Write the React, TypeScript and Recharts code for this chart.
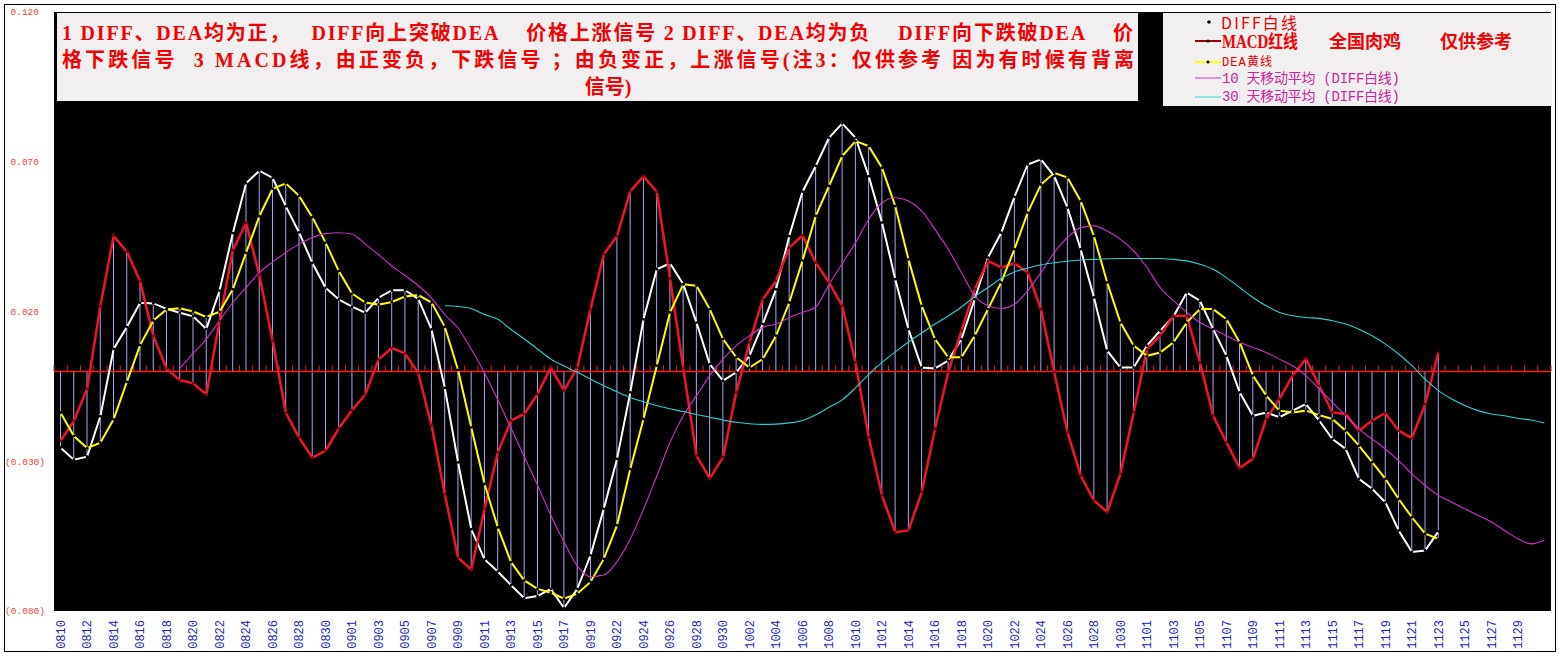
import React from 'react';
import { ComposedChart, Line, Bar, XAxis, YAxis, CartesianGrid, ReferenceLine } from 'recharts';

const categories = [
  '0810','0811','0812','0813','0814','0815','0816','0817','0818','0819','0820','0821','0822','0823','0824','0825','0826','0827','0828','0829','0830','0831',
  '0901','0902','0903','0904','0905','0906','0907','0908','0909','0910','0911','0912','0913','0914','0915','0916','0917','0918','0919','0920',
  '0922','0923','0924','0925','0926','0927','0928','0929','0930',
  '1001','1002','1003','1004','1005','1006','1007','1008','1009','1010','1011','1012','1013','1014','1015','1016','1017','1018','1019','1020','1021','1022','1023','1024','1025','1026','1027','1028','1029','1030','1031',
  '1101','1102','1103','1104','1105','1106','1107','1108','1109','1110','1111','1112','1113','1114','1115','1116','1117','1118','1119','1120','1121','1122','1123','1124','1125','1126','1127','1128','1129','1130',
  '1201'
];

const xTickLabels = [
  '0810','0812','0814','0816','0818','0820','0822','0824','0826','0828','0830',
  '0901','0903','0905','0907','0909','0911','0913','0915','0917','0919',
  '0922','0924','0926','0928','0930',
  '1002','1004','1006','1008','1010','1012','1014','1016','1018','1020','1022','1024','1026','1028','1030',
  '1101','1103','1105','1107','1109','1111','1113','1115','1117','1119','1121','1123','1125','1127','1129'
];

// DIFF (white line)
const diff = [
  -0.0255, -0.0295, -0.0285, -0.0150, 0.0075, 0.0148, 0.0229, 0.0227, 0.0209, 0.0196,
  0.0184, 0.0142, 0.0270, 0.0462, 0.0628, 0.0670, 0.0646, 0.0551, 0.0464, 0.0362,
  0.0279, 0.0240, 0.0216, 0.0196, 0.0246, 0.0271, 0.0271, 0.0242, 0.0140, -0.0055,
  -0.0304, -0.0527, -0.0628, -0.0668, -0.0714, -0.0757, -0.0750, -0.0726, -0.0790, -0.0726,
  -0.0614, -0.0459, -0.0292, -0.0070, 0.0174, 0.0341, 0.0361, 0.0291, 0.0163, 0.0024,
  -0.0031, -0.0003, 0.0052, 0.0158, 0.0274, 0.0452, 0.0600, 0.0686, 0.0780, 0.0828,
  0.0780, 0.0652, 0.0497, 0.0308, 0.0141, 0.0013, 0.0010, 0.0036, 0.0108, 0.0241,
  0.0380, 0.0463, 0.0583, 0.0691, 0.0708, 0.0652, 0.0547, 0.0408, 0.0247, 0.0069,
  0.0013, 0.0013, 0.0086, 0.0136, 0.0183, 0.0263, 0.0236, 0.0141, 0.0052, -0.0070,
  -0.0148, -0.0137, -0.0153, -0.0131, -0.0109, -0.0164, -0.0226, -0.0259, -0.0359, -0.0392,
  -0.0437, -0.0531, -0.0603, -0.0598, -0.0534
];

// DEA (yellow line)
const dea = [
  -0.0138, -0.0216, -0.0256, -0.0238, -0.0160, -0.0035, 0.0088, 0.0170, 0.0207, 0.0211,
  0.0200, 0.0182, 0.0199, 0.0274, 0.0396, 0.0518, 0.0610, 0.0628, 0.0586, 0.0515,
  0.0430, 0.0335, 0.0260, 0.0230, 0.0223, 0.0232, 0.0250, 0.0255, 0.0230, 0.0149,
  0.0005, -0.0187, -0.0376, -0.0521, -0.0637, -0.0698, -0.0726, -0.0739, -0.0759, -0.0742,
  -0.0703, -0.0626, -0.0514, -0.0326, -0.0159, 0.0019, 0.0197, 0.0291, 0.0286, 0.0208,
  0.0108, 0.0047, 0.0013, 0.0041, 0.0119, 0.0230, 0.0370, 0.0519, 0.0619, 0.0719,
  0.0769, 0.0752, 0.0680, 0.0552, 0.0374, 0.0219, 0.0108, 0.0047, 0.0047, 0.0119,
  0.0208, 0.0297, 0.0408, 0.0530, 0.0624, 0.0663, 0.0647, 0.0569, 0.0452, 0.0297,
  0.0163, 0.0086, 0.0052, 0.0063, 0.0097, 0.0163, 0.0208, 0.0208, 0.0174, 0.0097,
  -0.0014, -0.0081, -0.0131, -0.0137, -0.0131, -0.0146, -0.0159, -0.0198, -0.0248, -0.0303,
  -0.0359, -0.0426, -0.0487, -0.0542, -0.0559
];

// MACD (red line)
const macd = [
  -0.0232, -0.0165, -0.0058, 0.0218, 0.0452, 0.0400, 0.0301, 0.0118, 0.0009, -0.0029,
  -0.0040, -0.0077, 0.0168, 0.0405, 0.0496, 0.0322, 0.0102, -0.0138, -0.0221, -0.0288,
  -0.0265, -0.0190, -0.0130, -0.0077, 0.0040, 0.0078, 0.0060, -0.0006, -0.0181, -0.0410,
  -0.0622, -0.0662, -0.0459, -0.0270, -0.0164, -0.0142, -0.0076, 0.0013, -0.0064, 0.0013,
  0.0208, 0.0391, 0.0452, 0.0602, 0.0652, 0.0600, 0.0310, 0.0010, -0.0281, -0.0357,
  -0.0287, -0.0070, 0.0097, 0.0241, 0.0302, 0.0413, 0.0454, 0.0363, 0.0297, 0.0219,
  0.0030, -0.0220, -0.0414, -0.0537, -0.0531, -0.0403, -0.0192, -0.0003, 0.0136, 0.0274,
  0.0369, 0.0347, 0.0361, 0.0330, 0.0208, -0.0003, -0.0203, -0.0348, -0.0431, -0.0470,
  -0.0342, -0.0137, 0.0074, 0.0119, 0.0186, 0.0186, 0.0030, -0.0148, -0.0237, -0.0323,
  -0.0292, -0.0159, -0.0092, -0.0014, 0.0043, -0.0048, -0.0137, -0.0142, -0.0198, -0.0164,
  -0.0139, -0.0198, -0.0223, -0.0109, 0.0063
];

// 10-day moving average of DIFF (magenta)
const ma10 = [
  null, null, null, null, null, null, null, null, null, 0.0010,
  0.0060, 0.0108, 0.0170, 0.0230, 0.0280, 0.0330, 0.0365, 0.0397, 0.0425, 0.0447,
  0.0460, 0.0463, 0.0458, 0.0425, 0.0390, 0.0352, 0.0320, 0.0286, 0.0245, 0.0190,
  0.0145, 0.0074, -0.0005, -0.0095, -0.0190, -0.0285, -0.0380, -0.0480, -0.0570, -0.0650,
  -0.0685, -0.0680, -0.0635, -0.0560, -0.0460, -0.0350, -0.0237, -0.0148, -0.0081, -0.0014,
  0.0041, 0.0086, 0.0119, 0.0147, 0.0158, 0.0180, 0.0197, 0.0215, 0.0290, 0.0360,
  0.0430, 0.0508, 0.0563, 0.0580, 0.0569, 0.0536, 0.0474, 0.0408, 0.0330, 0.0252,
  0.0219, 0.0210, 0.0224, 0.0269, 0.0330, 0.0397, 0.0447, 0.0480, 0.0486, 0.0469,
  0.0441, 0.0402, 0.0347, 0.0280, 0.0236, 0.0197, 0.0163, 0.0141, 0.0119, 0.0097,
  0.0080, 0.0063, 0.0041, 0.0019, -0.0014, -0.0059, -0.0103, -0.0148, -0.0192, -0.0226,
  -0.0259, -0.0298, -0.0342, -0.0381, -0.0414, -0.0437, -0.0459, -0.0481, -0.0503, -0.0531,
  -0.0559, -0.0576, -0.0564
];

// 30-day moving average of DIFF (cyan)
const ma30 = [
  null, null, null, null, null, null, null, null, null, null,
  null, null, null, null, null, null, null, null, null, null,
  null, null, null, null, null, null, null, null, null, 0.0219,
  0.0217, 0.0210, 0.0190, 0.0174, 0.0140, 0.0108, 0.0075, 0.0041, 0.0018, -0.0003,
  -0.0026, -0.0048, -0.0068, -0.0087, -0.0101, -0.0114, -0.0125, -0.0134, -0.0144, -0.0153,
  -0.0162, -0.0170, -0.0175, -0.0177, -0.0176, -0.0172, -0.0164, -0.0145, -0.0120, -0.0095,
  -0.0055, -0.0010, 0.0030, 0.0065, 0.0098, 0.0128, 0.0158, 0.0185, 0.0215, 0.0250,
  0.0280, 0.0310, 0.0332, 0.0345, 0.0356, 0.0363, 0.0368, 0.0372, 0.0374, 0.0376,
  0.0377, 0.0377, 0.0377, 0.0377, 0.0374, 0.0369, 0.0358, 0.0341, 0.0313, 0.0280,
  0.0247, 0.0219, 0.0197, 0.0186, 0.0180, 0.0177, 0.0169, 0.0158, 0.0141, 0.0119,
  0.0091, 0.0058, 0.0019, -0.0026, -0.0064, -0.0092, -0.0114, -0.0131, -0.0142, -0.0148,
  -0.0157, -0.0162, -0.0172
];

const yTicks = [0.12, 0.07, 0.02, -0.03, -0.08];

const titleLines = [
  '1 DIFF、DEA均为正，   DIFF向上突破DEA    价格上涨信号 2 DIFF、DEA均为负    DIFF向下跌破DEA    价',
  '格下跌信号  3 MACD线，由正变负，下跌信号 ；由负变正，上涨信号(注3：仅供参考 因为有时候有背离',
  '信号)'
];

const legendLabels = {
  diff: 'DIFF白线',
  macd: 'MACD红线',
  dea: 'DEA黄线',
  ma10: '10 天移动平均 (DIFF白线)',
  ma30: '30 天移动平均 (DIFF白线)',
  extra1: '全国肉鸡',
  extra2: '仅供参考'
};

const data = categories.map((date, i) => {
  const d = diff[i];
  const e = dea[i];
  const m = macd[i];
  const has = d !== undefined;
  return {
    date,
    diff: has ? d : null,
    dea: has ? e : null,
    macd: has ? m : null,
    ma10: ma10[i] ?? null,
    ma30: ma30[i] ?? null,
    drop: has ? [Math.min(0, d, e, m), Math.max(0, d, e, m)] : null
  };
});

const fmtY = (v: number) => (v < 0 ? `(${Math.abs(v).toFixed(3)})` : v.toFixed(3));

const YTick = (props: any) => {
  const { x, y, payload } = props;
  const v = payload.value as number;
  const neg = v < 0;
  return (
    <text x={neg ? x - 1 : x - 7} y={y} dy="0.35em" textAnchor="end" fontFamily="'Liberation Mono', monospace" fontSize={9.5} fill="#E04848">
      {fmtY(v)}
    </text>
  );
};

const XTick = (props: any) => {
  const { x, y, payload } = props;
  const ty = y + 1;
  return (
    <text x={x} y={ty} dy="0.35em" textAnchor="end" transform={`rotate(-90, ${x}, ${ty})`} fontFamily="'Liberation Mono', monospace" fontSize={12} fill="#2626B8">
      {payload.value}
    </text>
  );
};

const ZeroLine = (props: any) => {
  const { x1, x2, y1 } = props;
  const n = categories.length;
  const band = (x2 - x1) / n;
  const ticks = [];
  for (let k = 0; k <= n; k++) {
    const tx = x1 + k * band;
    ticks.push(<line key={k} x1={tx} x2={tx} y1={y1} y2={y1 - 6} stroke="#C83030" strokeWidth={1} />);
  }
  return (
    <g>
      {ticks}
      <line x1={x1} x2={x2} y1={y1} y2={y1} stroke="#FF1A1A" strokeWidth={1.5} />
    </g>
  );
};

const titleFont = "'Liberation Serif', 'Noto Sans CJK SC', serif";

export default function App() {
  return (
    <div style={{ position: 'absolute', left: 0, top: 0, width: 1560, height: 671, background: '#fff' }}>
      <ComposedChart width={1560} height={671} data={data} margin={{ top: 12, right: 9, bottom: 15, left: 0 }}>
        <CartesianGrid horizontal={false} vertical={false} fill="#000" stroke="none" />
        <XAxis dataKey="date" ticks={xTickLabels} interval={0} axisLine={false} tickLine={false} tickSize={6} tickMargin={2} height={45} tick={<XTick />} />
        <YAxis domain={[-0.08, 0.12]} ticks={yTicks} width={54} axisLine={false} tickLine={false} tick={<YTick />} allowDataOverflow />
        <Bar dataKey="drop" barSize={1} fill="#A9A9F2" isAnimationActive={false} />
        <ReferenceLine y={0} shape={ZeroLine} />
        <Line type="linear" dataKey="diff" stroke="#FFFFFF" strokeWidth={2} dot={{ r: 1.4, fill: '#000', stroke: 'none' }} activeDot={false} isAnimationActive={false} />
        <Line type="linear" dataKey="macd" stroke="#F2142A" strokeWidth={2.5} dot={{ r: 1.3, fill: '#7A0010', stroke: 'none' }} activeDot={false} isAnimationActive={false} />
        <Line type="linear" dataKey="dea" stroke="#FFFF00" strokeWidth={2} dot={{ r: 1.4, fill: '#000', stroke: 'none' }} activeDot={false} isAnimationActive={false} />
        <Line type="monotone" dataKey="ma10" stroke="#C838C8" strokeWidth={1.1} dot={false} activeDot={false} isAnimationActive={false} />
        <Line type="monotone" dataKey="ma30" stroke="#30D0D0" strokeWidth={1.1} dot={false} activeDot={false} isAnimationActive={false} />
      </ComposedChart>
      <svg width={1560} height={671} style={{ position: 'absolute', left: 0, top: 0, pointerEvents: 'none' }}>
        <rect x={4.5} y={4.5} width={1551} height={647} fill="none" stroke="#000" strokeWidth={1} />
        {/* title box */}
        <rect x={57} y={13} width={1081} height={88} fill="#F1EFEF" />
        <text x={62} y={40} textLength={1071} lengthAdjust="spacing" xmlSpace="preserve" style={{ whiteSpace: 'pre' }} fontFamily={titleFont} fontWeight="bold" fontSize={20} fill="#F00000">{titleLines[0]}</text>
        <text x={62} y={67} textLength={1072} lengthAdjust="spacing" xmlSpace="preserve" style={{ whiteSpace: 'pre' }} fontFamily={titleFont} fontWeight="bold" fontSize={20} fill="#F00000">{titleLines[1]}</text>
        <text x={608} y={94} textAnchor="middle" fontFamily={titleFont} fontWeight="bold" fontSize={20} fill="#F00000">{titleLines[2]}</text>
        {/* legend box */}
        <rect x={1163} y={13} width={389} height={93} fill="#F1EFEF" />
        <circle cx={1209} cy={22} r={1.8} fill="#000" />
        <text x={1221} y={29} fontFamily="'Noto Sans CJK SC', sans-serif" fontSize={16} fill="#E00000" textLength={76} lengthAdjust="spacing">{legendLabels.diff}</text>
        <line x1={1195} x2={1221} y1={41} y2={41} stroke="#9A0010" strokeWidth={2} />
        <circle cx={1208} cy={41} r={1.6} fill="#300" />
        <g fontFamily={titleFont} fontWeight="bold" fontSize={18} fill="#F00000">
          <text x={1222} y={48} textLength={76} lengthAdjust="spacingAndGlyphs">{legendLabels.macd}</text>
          <text x={1329} y={48}>{legendLabels.extra1}</text>
          <text x={1440} y={48}>{legendLabels.extra2}</text>
        </g>
        <line x1={1195} x2={1221} y1={62} y2={62} stroke="#FFFF00" strokeWidth={2} />
        <circle cx={1208} cy={62} r={1.6} fill="#000" />
        <text x={1222} y={66} fontFamily="'Liberation Mono', 'Noto Sans CJK SC', monospace" fontSize={12} fill="#E00000" textLength={50} lengthAdjust="spacing">{legendLabels.dea}</text>
        <line x1={1195} x2={1221} y1={78} y2={78} stroke="#D030D0" strokeWidth={1} />
        <text x={1222} y={83} fontFamily="'Liberation Mono', 'Noto Sans CJK SC', monospace" fontSize={14} fill="#C8289A" textLength={178} lengthAdjust="spacing" xmlSpace="preserve" style={{ whiteSpace: 'pre' }}>{legendLabels.ma10}</text>
        <line x1={1195} x2={1221} y1={97} y2={97} stroke="#30D8D8" strokeWidth={1} />
        <text x={1222} y={101} fontFamily="'Liberation Mono', 'Noto Sans CJK SC', monospace" fontSize={14} fill="#C8289A" textLength={178} lengthAdjust="spacing" xmlSpace="preserve" style={{ whiteSpace: 'pre' }}>{legendLabels.ma30}</text>
      </svg>
    </div>
  );
}
